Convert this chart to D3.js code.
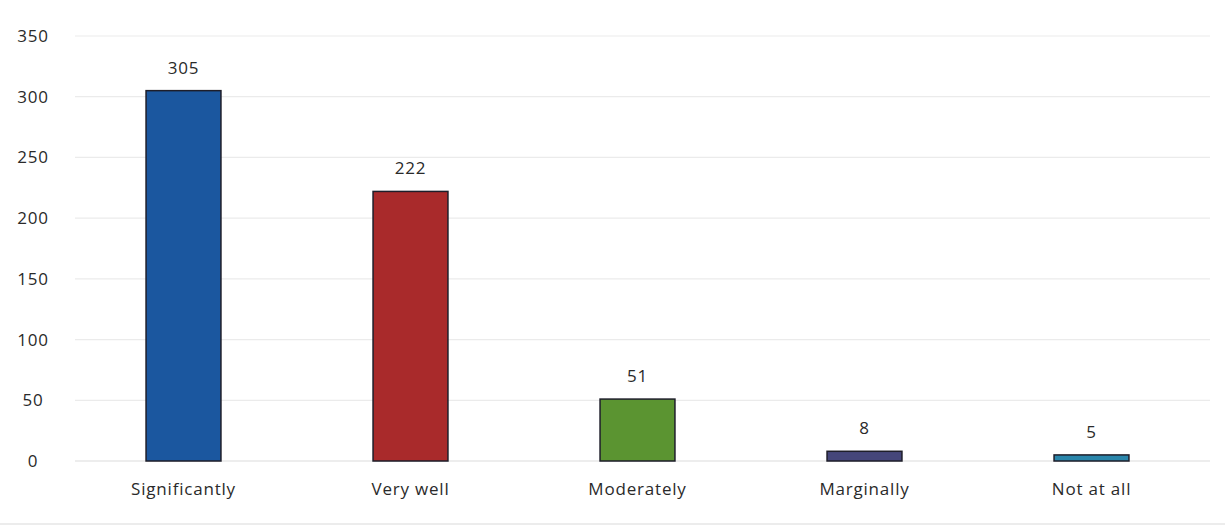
<!DOCTYPE html>
<html>
<head>
<meta charset="utf-8">
<script src="https://cdn.jsdelivr.net/npm/d3@7"></script>
<style>
  html, body { margin: 0; padding: 0; background: #fff; }
  svg text { font-family: "Open Sans", "Noto Sans", sans-serif; fill: #2a2a2a; }
</style>
</head>
<body>
<svg id="chart" width="1225" height="529"></svg>
<script>
const categories = ["Significantly", "Very well", "Moderately", "Marginally", "Not at all"];
const values = [305, 222, 51, 8, 5];
const colors = ["#1b579f", "#a92a2b", "#5b9431", "#45467a", "#2a86ab"];
const yTicks = [0, 50, 100, 150, 200, 250, 300, 350];

const svg = d3.select("#chart");
const x = d3.scaleBand().domain(categories).range([70, 1205]).paddingInner(0.67).paddingOuter(0.335);
const y = d3.scaleLinear().domain([0, 350]).range([461, 36]);

// gridlines
svg.append("g").selectAll("line").data(yTicks).join("line")
  .attr("x1", 75).attr("x2", 1210)
  .attr("y1", d => y(d)).attr("y2", d => y(d))
  .attr("stroke", d => d === 0 ? "#dcdcdc" : "#ebebeb").attr("stroke-width", 1.2);

// y axis labels
const yAxis = d3.axisLeft(y).tickValues(yTicks).tickSize(0).tickPadding(0);
const ya = svg.append("g").attr("transform", "translate(33,0)").call(yAxis);
ya.select(".domain").remove();
ya.selectAll("text").attr("text-anchor", "middle").style("font-size", "17px")
  .style("letter-spacing", "0.8px").attr("fill", "#2a2a2a");

// bars
svg.append("g").selectAll("rect").data(values).join("rect")
  .attr("x", (d, i) => x(categories[i]))
  .attr("width", x.bandwidth())
  .attr("y", d => y(d))
  .attr("height", d => y(0) - y(d))
  .attr("fill", (d, i) => colors[i])
  .attr("stroke", "#1e1e2a").attr("stroke-width", 1.5);

// value labels
svg.append("g").selectAll("text").data(values).join("text")
  .attr("x", (d, i) => x(categories[i]) + x.bandwidth() / 2)
  .attr("y", d => y(d) - 17)
  .attr("text-anchor", "middle")
  .style("font-size", "17px")
  .style("letter-spacing", "0.8px")
  .text(d => d);

// category axis
const xAxis = d3.axisBottom(x).tickSize(0).tickPadding(0);
const xa = svg.append("g").attr("transform", "translate(0,483)").call(xAxis);
xa.select(".domain").remove();
xa.selectAll("text").style("font-size", "17px").style("letter-spacing", "0.8px")
  .attr("fill", "#2a2a2a").attr("dy", "0.71em");

// bottom frame line
svg.append("line").attr("x1", 0).attr("x2", 1225).attr("y1", 524).attr("y2", 524)
  .attr("stroke", "#e6e6e6").attr("stroke-width", 1.5);
</script>
</body>
</html>
